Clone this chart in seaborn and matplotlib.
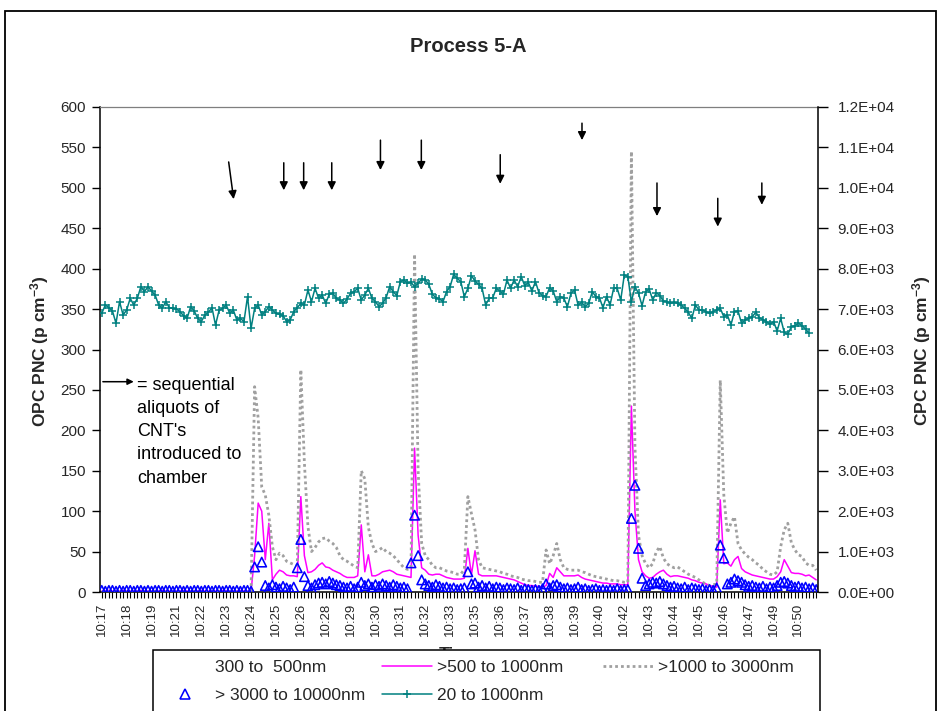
import numpy as np
import pandas as pd
import matplotlib
matplotlib.use("Agg")
import matplotlib.pyplot as plt
from matplotlib.lines import Line2D
from matplotlib.patches import Rectangle
import seaborn as sns

sns.set_theme(style="ticks")
plt.rcParams["font.family"] = ["Liberation Sans", "DejaVu Sans"]
plt.rcParams["mathtext.fontset"] = "custom"
plt.rcParams["mathtext.rm"] = "Liberation Sans"
plt.rcParams["mathtext.bf"] = "Liberation Sans:bold"
plt.rcParams["mathtext.default"] = "bf"

# ---------------------------------------------------------------- data
# one sample every 10 s from about 10:17:35; tick label every 7th sample
tick_labels = ["10:17", "10:18", "10:19", "10:21", "10:22", "10:23", "10:24",
               "10:25", "10:26", "10:28", "10:29", "10:30", "10:31", "10:32",
               "10:33", "10:35", "10:36", "10:37", "10:38", "10:39", "10:40",
               "10:42", "10:43", "10:44", "10:45", "10:46", "10:47", "10:49",
               "10:50"]
tick_every = 7

# OPC >500 to 1000 nm (left axis, p cm-3)
opc_500_1000 = [
    1, 1, 2, 1, 1, 1, 2, 1, 1, 1,
    1, 2, 1, 1, 1, 1, 1, 2, 1, 1,
    1, 1, 1, 2, 1, 1, 1, 1, 2, 1,
    1, 1, 1, 1, 2, 1, 1, 1, 1, 2,
    1, 1, 1, 45, 110, 100, 40, 85, 15, 22,
    27, 25, 21, 20, 20, 19, 118, 45, 24, 25,
    28, 33, 36, 31, 30, 27, 25, 23, 20, 18,
    18, 18, 20, 83, 25, 46, 20, 20, 22, 25,
    26, 27, 25, 22, 21, 20, 19, 18, 178, 70,
    30, 27, 22, 21, 22, 22, 20, 18, 17, 16,
    16, 16, 17, 54, 21, 51, 22, 20, 20, 20,
    20, 20, 19, 18, 17, 16, 15, 13, 11, 9,
    8, 8, 7, 7, 6, 8, 23, 18, 30, 25,
    20, 20, 20, 20, 21, 18, 16, 15, 14, 13,
    12, 11, 11, 10, 10, 10, 9, 9, 9, 230,
    100, 40, 25, 20, 17, 18, 22, 25, 27, 22,
    19, 20, 20, 19, 18, 17, 15, 14, 12, 11,
    10, 8, 7, 6, 114, 35, 36, 32, 40, 44,
    29, 25, 23, 21, 20, 19, 18, 17, 16, 16,
    19, 25, 40, 32, 24, 23, 23, 22, 20, 21,
    18, 15]

# OPC >1000 to 3000 nm (left axis)
opc_1000_3000 = [
    0, 1, 0, 0, 1, 0, 0, 0, 1, 0,
    0, 0, 1, 0, 0, 1, 0, 0, 0, 1,
    0, 0, 1, 0, 0, 0, 1, 0, 0, 0,
    1, 0, 0, 1, 0, 0, 0, 1, 0, 0,
    1, 0, 0, 254, 215, 130, 120, 95, 56, 40,
    48, 45, 38, 36, 34, 33, 275, 160, 81, 50,
    55, 62, 66, 67, 63, 60, 55, 45, 40, 38,
    35, 32, 30, 150, 140, 80, 60, 50, 52, 55,
    50, 48, 45, 40, 35, 30, 28, 30, 418, 150,
    60, 45, 40, 33, 30, 30, 28, 26, 25, 24,
    22, 22, 28, 118, 97, 77, 40, 30, 29, 28,
    27, 26, 25, 23, 22, 20, 19, 18, 16, 15,
    14, 14, 13, 12, 12, 52, 35, 45, 60, 40,
    30, 28, 27, 27, 27, 25, 24, 22, 20, 19,
    18, 17, 16, 15, 14, 14, 13, 12, 12, 545,
    180, 70, 45, 35, 30, 35, 50, 56, 42, 35,
    32, 30, 31, 28, 25, 22, 20, 18, 15, 12,
    10, 8, 9, 10, 262, 120, 73, 85, 93, 60,
    52, 47, 43, 40, 36, 33, 28, 25, 22, 21,
    25, 56, 77, 85, 61, 52, 46, 44, 36, 33,
    33, 27]

# OPC >3000 to 10000 nm (left axis, markers only)
opc_3000_10000 = [
    2, 1, 2, 2, 1, 2, 1, 2, 2, 1,
    2, 2, 1, 2, 1, 2, 2, 1, 2, 2,
    1, 2, 2, 1, 2, 1, 2, 2, 1, 2,
    2, 1, 2, 2, 1, 2, 2, 1, 2, 1,
    2, 2, 1, 31, 56, 37, 8, 5, 9, 6,
    4, 7, 5, 3, 6, 30, 65, 19, 8, 5,
    9, 11, 12, 10, 13, 11, 9, 8, 6, 5,
    7, 4, 6, 12, 8, 10, 6, 9, 7, 10,
    8, 6, 9, 7, 5, 6, 4, 36, 95, 45,
    15, 10, 8, 6, 9, 7, 5, 6, 4, 5,
    3, 4, 5, 25, 10, 11, 6, 8, 5, 7,
    4, 6, 5, 3, 5, 4, 3, 5, 2, 4,
    3, 2, 3, 2, 4, 10, 5, 8, 9, 6,
    4, 5, 3, 4, 6, 3, 4, 2, 3, 4,
    2, 3, 2, 3, 2, 4, 2, 3, 3, 91,
    132, 54, 17, 8, 10, 12, 11, 13, 10, 8,
    6, 7, 5, 4, 6, 3, 5, 4, 3, 4,
    2, 3, 2, 5, 58, 42, 10, 12, 16, 14,
    12, 9, 7, 8, 6, 5, 7, 4, 6, 5,
    8, 12, 13, 11, 8, 6, 7, 5, 6, 4,
    5, 3]

# CPC 20 to 1000 nm (right axis)
cpc_20_1000 = [
    6895, 7101, 7035, 6953, 6650, 7184, 6854, 6978, 7266, 7101,
    7266, 7555, 7431, 7555, 7447, 7349, 7101, 7019, 7184, 7035,
    7019, 7002, 6936, 6837, 6771, 7060, 6953, 6771, 6689, 6854,
    6920, 7035, 6606, 6969, 7019, 7101, 6895, 6978, 6730, 6771,
    6689, 7308, 6524, 7019, 7101, 6854, 6936, 7060, 6978, 6895,
    6871, 6837, 6689, 6730, 6936, 7035, 7142, 7101, 7472, 7184,
    7514, 7266, 7349, 7142, 7365, 7390, 7266, 7225, 7142, 7250,
    7390, 7431, 7514, 7225, 7349, 7514, 7266, 7184, 7060, 7142,
    7283, 7555, 7431, 7332, 7679, 7720, 7637, 7662, 7555, 7637,
    7745, 7720, 7613, 7365, 7283, 7250, 7184, 7431, 7555, 7860,
    7761, 7679, 7308, 7514, 7827, 7695, 7613, 7514, 7101, 7266,
    7283, 7514, 7447, 7365, 7720, 7514, 7720, 7555, 7802, 7580,
    7662, 7447, 7679, 7406, 7332, 7308, 7530, 7447, 7184, 7308,
    7266, 7060, 7390, 7472, 7101, 7167, 7060, 7142, 7431, 7308,
    7283, 7035, 7308, 7101, 7514, 7514, 7225, 7843, 7802, 7184,
    7555, 7390, 7085, 7431, 7497, 7225, 7406, 7332, 7200, 7184,
    7142, 7167, 7142, 7101, 7019, 6920, 6771, 7101, 6978, 6978,
    6936, 6895, 6936, 6978, 7019, 6812, 6854, 6606, 6936, 6953,
    6647, 6730, 6771, 6812, 6920, 6788, 6730, 6689, 6623, 6689,
    6458, 6771, 6425, 6375, 6565, 6589, 6647, 6589, 6507, 6400]

# CNT aliquot markers: (sample, value) of arrow tail and head, left-axis units
aliquot_arrows = [
    ((35.7, 532), (37.1, 486)),
    ((51.2, 531), (51.2, 497)),
    ((56.8, 531), (56.8, 497)),
    ((64.7, 531), (64.7, 497)),
    ((78.4, 559), (78.4, 522)),
    ((89.9, 559), (89.9, 522)),
    ((112.1, 541), (112.1, 505)),
    ((135.1, 580), (135.1, 559)),
    ((156.2, 506), (156.2, 465)),
    ((173.3, 487), (173.3, 452)),
    ((185.7, 506), (185.7, 479)),
]

MAGENTA = "#FF00FF"
GREY = "#A0A0A0"
BLUE = "#0000FF"
TEAL = "#008080"
GREY_DOTS = (0, (1, 1.1))

opc = pd.DataFrame({
    "sample": np.arange(len(opc_500_1000)),
    "m500": opc_500_1000,
    "m1000": opc_1000_3000,
    "m3000": opc_3000_10000,
})
cpc = pd.DataFrame({"sample": np.arange(len(cpc_20_1000)), "cpc": cpc_20_1000})
n = len(opc)

# ---------------------------------------------------------------- figure
W, H = 938, 711
fig = plt.figure(figsize=(W / 100, H / 100), dpi=100)
fig.patch.set_facecolor("white")
ax = fig.add_axes([100 / W, 1 - 592 / H, 718 / W, 485 / H])
ax.set_facecolor("white")

sns.lineplot(data=opc, x="sample", y="m500", ax=ax, color=MAGENTA,
             linewidth=1.1, zorder=2)
sns.lineplot(data=opc, x="sample", y="m1000", ax=ax, color=GREY,
             linewidth=2.0, linestyle=GREY_DOTS, zorder=3)
sns.scatterplot(data=opc, x="sample", y="m3000", ax=ax, marker="^", s=46,
                zorder=4)
tri = ax.collections[-1]
tri.set_facecolor("none")
tri.set_edgecolor(BLUE)
tri.set_linewidth(1.15)

ax.set_xlim(-0.5, n - 0.5)
ax.set_ylim(0, 600)
ax.set_yticks(np.arange(0, 601, 50))
ax.set_xticks(np.arange(n))
xt = [""] * n
for k, lab in enumerate(tick_labels):
    xt[k * tick_every] = lab
ax.set_xticklabels(xt, rotation=90, fontsize=9.5)
ax.tick_params(axis="x", length=4, width=0.8, color="black", pad=3.5,
               direction="out")
ax.tick_params(axis="y", length=6, width=1, color="black", labelsize=11,
               pad=4, direction="out")
ax.set_xlabel("Time", fontsize=12.5, fontweight="bold")
ax.xaxis.set_label_coords(0.5, -0.113)
ax.set_ylabel("")

for s in ["left", "bottom"]:
    ax.spines[s].set_color("black")
    ax.spines[s].set_linewidth(1.1)
ax.spines["top"].set_color("#7F7F7F")
ax.spines["top"].set_linewidth(0.9)
ax.spines["right"].set_visible(False)

ax2 = ax.twinx()
sns.lineplot(data=cpc, x="sample", y="cpc", ax=ax2, color=TEAL, linewidth=1.1,
             marker="+", markersize=6, markeredgewidth=1.1,
             markeredgecolor=TEAL, zorder=5)
ax2.set_ylim(0, 12000)
ax2.set_yticks(np.arange(0, 12001, 1000))
ax2.set_yticklabels(["{:.1E}".format(v) for v in np.arange(0, 12001, 1000)])
ax2.tick_params(axis="y", length=7, width=1, color="black", labelsize=11,
                pad=7, direction="out")
ax2.set_ylabel("")
ax2.set_xlabel("")
for s in ["left", "top", "bottom"]:
    ax2.spines[s].set_visible(False)
ax2.spines["right"].set_color("black")
ax2.spines["right"].set_linewidth(1.1)
ax2.set_xlim(-0.5, n - 0.5)

# aliquot arrows
for (x0, y0), (x1, y1) in aliquot_arrows:
    ax.annotate("", xy=(x1, y1), xytext=(x0, y0),
                arrowprops=dict(arrowstyle="-|>", color="black", lw=1.1,
                                mutation_scale=12, shrinkA=0, shrinkB=0),
                zorder=6)

# key for the arrows
ax.annotate("", xy=(0.047, 0.4336), xytext=(0.004, 0.4336),
            xycoords="axes fraction", textcoords="axes fraction",
            arrowprops=dict(arrowstyle="-|>", color="black", lw=1.1,
                            mutation_scale=9, shrinkA=0, shrinkB=0))
ax.text(0.0515, 0.443, "= sequential\naliquots of\nCNT's\nintroduced to\nchamber",
        transform=ax.transAxes, ha="left", va="top", fontsize=13,
        linespacing=1.47, color="black")

# titles
fig.text(468 / W, 1 - 47 / H, "Process 5-A", ha="center", va="center",
         fontsize=14.5, fontweight="bold")
fig.text(40 / W, 1 - 351 / H, r"OPC PNC (p cm$^{-3}$)", rotation=90,
         ha="center", va="center", fontsize=12.5, fontweight="bold")
fig.text(922 / W, 1 - 351 / H, r"CPC PNC (p cm$^{-3}$)", rotation=90,
         ha="center", va="center", fontsize=12.5, fontweight="bold")

# legend: three equal-width columns inside one box
h_300 = Line2D([], [], linestyle="none")
h_500 = Line2D([], [], color=MAGENTA, linewidth=1.1)
h_1000 = Line2D([], [], color=GREY, linewidth=2.0, linestyle=GREY_DOTS)
h_3000 = Line2D([], [], linestyle="none", marker="^", markersize=7,
                markerfacecolor="none", markeredgecolor=BLUE,
                markeredgewidth=1.15)
h_cpc = Line2D([], [], color=TEAL, linewidth=1.1, marker="+", markersize=6,
               markeredgewidth=1.1)
legend_columns = [
    ([h_300, h_3000], ["300 to  500nm", "> 3000 to 10000nm"], 160),
    ([h_500, h_cpc], [">500 to 1000nm", "20 to 1000nm"], 382),
    ([h_1000], [">1000 to 3000nm"], 603),
]
legend_top = 660
for handles, labels, x_px in legend_columns:
    lg = fig.legend(handles, labels, loc="upper left",
                    bbox_to_anchor=(x_px / W, 1 - legend_top / H),
                    bbox_transform=fig.transFigure, borderaxespad=0,
                    borderpad=0, fontsize=12.5, frameon=False,
                    handlelength=2.88, handletextpad=0.29,
                    labelspacing=0.73, numpoints=1)
    lg.set_zorder(9)

fig.add_artist(Rectangle((153 / W, -0.05), 667 / W, 1 - 650 / H + 0.05,
                         transform=fig.transFigure, facecolor="white",
                         edgecolor="black", linewidth=1.1, zorder=8))

# chart border
fig.add_artist(Rectangle((5 / W, -0.05), 931 / W, 1 - 11 / H + 0.05,
                         transform=fig.transFigure, fill=False,
                         edgecolor="black", linewidth=1.3, zorder=10))

fig.savefig("out.png", dpi=100, facecolor="white")
